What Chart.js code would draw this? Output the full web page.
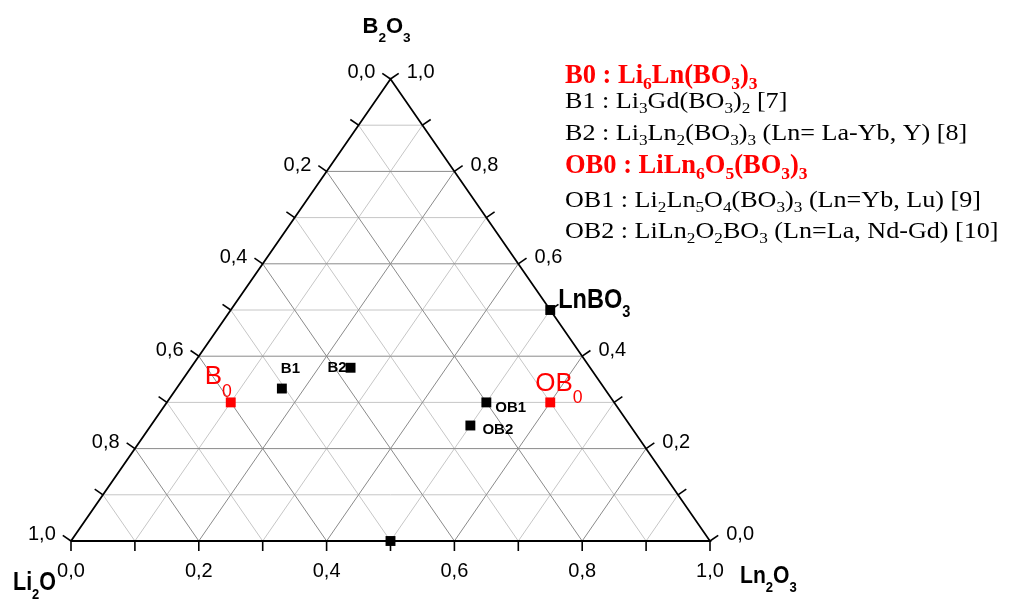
<!DOCTYPE html>
<html>
<head>
<meta charset="utf-8">
<script src="https://cdn.jsdelivr.net/npm/chart.js"></script>
<style>
  body { margin: 0; background: #fff; }
  #wrap { width: 1009px; height: 599px; }
</style>
</head>
<body>
<div id="wrap"><canvas id="ternary" width="1009" height="599"></canvas></div>
<script>
// ternary grid / axis values
const gridSteps = [0.1, 0.2, 0.3, 0.4, 0.5, 0.6, 0.7, 0.8, 0.9];
const tickSteps = [0, 0.1, 0.2, 0.3, 0.4, 0.5, 0.6, 0.7, 0.8, 0.9, 1];
const tickLabelValues = [0, 0.2, 0.4, 0.6, 0.8, 1];
const tickLabels = ['0,0', '0,2', '0,4', '0,6', '0,8', '1,0'];
const cornerNames = ['Li_2O', 'Ln_2O_3', 'B_2O_3'];

// phases (molar fractions Li2O / Ln2O3 / B2O3)
const phases = ['LnBO3', 'LiLnO2', 'B0', 'B1', 'B2', 'OB0', 'OB1', 'OB2'];
const phaseLabels = ['LnBO_3', '', 'B_0', 'B1', 'B2', 'OB_0', 'OB1', 'OB2'];
const li2o = [0, 0.5, 0.6, 0.505, 0.375, 0.1, 0.2, 0.25];
const ln2o3 = [0.5, 0.5, 0.1, 0.165, 0.25, 0.6, 0.5, 0.5];
const b2o3 = [0.5, 0, 0.3, 0.33, 0.375, 0.3, 0.3, 0.25];
const newPhases = ['B0', 'OB0'];

const notes = [
    'B0 : Li_6Ln(BO_3)_3',
    'B1 : Li_3Gd(BO_3)_2 [7]',
    'B2 : Li_3Ln_2(BO_3)_3 (Ln= La-Yb, Y) [8]',
    'OB0 : LiLn_6O_5(BO_3)_3',
    'OB1 : Li_2Ln_5O_4(BO_3)_3 (Ln=Yb, Lu) [9]',
    'OB2 : LiLn_2O_2BO_3 (Ln=La, Nd-Gd) [10]'
];
const noteIsNew = [true, false, false, true, false, false];

// ternary -> cartesian (x along Ln2O3, y = B2O3 height)
function toXY(ln, b) {
    return { x: ln + b / 2, y: b };
}

const SANS = "'Liberation Sans', Arial, sans-serif";
const SERIF = "'Liberation Serif', 'Times New Roman', serif";

function lineSet(p, q, color, width, order) {
    return {
        type: 'line',
        data: [p, q],
        borderColor: color,
        borderWidth: width,
        pointRadius: 0,
        fill: false,
        order: order,
        clip: false
    };
}

const datasets = [];
gridSteps.forEach(v => {
    const major = Math.round(v * 10) % 2 === 0;
    const col = major ? '#8a8a8a' : '#c6c6c6';
    const ord = major ? 4 : 5;
    // constant B2O3
    datasets.push(lineSet(toXY(0, v), toXY(1 - v, v), col, 1, ord));
    // constant Ln2O3
    datasets.push(lineSet(toXY(v, 0), toXY(v, 1 - v), col, 1, ord));
    // constant Li2O
    datasets.push(lineSet(toXY(1 - v, 0), toXY(0, 1 - v), col, 1, ord));
});

// frame
datasets.push({
    type: 'line',
    data: [toXY(0, 0), toXY(1, 0), toXY(0, 1), toXY(0, 0)],
    borderColor: '#000',
    borderWidth: 1.8,
    pointRadius: 0,
    fill: false,
    order: 3,
    clip: false
});

const blackPts = [], redPts = [];
phases.forEach((p, i) => {
    const pt = toXY(ln2o3[i], b2o3[i]);
    (newPhases.includes(p) ? redPts : blackPts).push(pt);
});
[[blackPts, '#000'], [redPts, '#ff0000']].forEach(([pts, col]) => {
    datasets.push({
        type: 'scatter',
        data: pts,
        pointStyle: 'rect',
        pointRadius: 7,
        pointBackgroundColor: col,
        pointBorderWidth: 0,
        order: 1,
        clip: false
    });
});

// text with "_x" marking a subscript character
function richText(ctx, str, x, y, o) {
    const runs = [];
    for (let i = 0; i < str.length; i++) {
        const sub = str[i] === '_';
        const ch = sub ? str[++i] : str[i];
        const last = runs[runs.length - 1];
        if (last && last.sub === sub) last.t += ch;
        else runs.push({ t: ch, sub: sub });
    }
    const weight = o.weight || 'normal';
    const main = weight + ' ' + o.size + 'px ' + o.family;
    const small = weight + ' ' + (o.size * (o.subScale || 0.65)) + 'px ' + o.family;
    let w = 0;
    runs.forEach(r => {
        ctx.font = r.sub ? small : main;
        r.w = ctx.measureText(r.t).width;
        w += r.w;
    });
    const sx = o.sx || 1;
    let x0 = x;
    if (o.align === 'right') x0 = x - w * sx;
    if (o.align === 'center') x0 = x - w * sx / 2;
    ctx.save();
    ctx.translate(x0, y);
    ctx.scale(sx, 1);
    ctx.fillStyle = o.color || '#000';
    ctx.textAlign = 'left';
    ctx.textBaseline = 'alphabetic';
    let cx = 0;
    runs.forEach(r => {
        ctx.font = r.sub ? small : main;
        ctx.fillText(r.t, cx, r.sub ? o.size * (o.subDrop || 0.3) : 0);
        cx += r.w;
    });
    ctx.restore();
}

const labelStyle = {
    'LnBO3': { dx: 8, dy: -2, size: 28, weight: 'bold', sx: 0.84, subScale: 0.62, subDrop: 0.32 },
    'B0': { dx: -26, dy: -18, size: 26, color: '#ff0000', subScale: 0.68, subDrop: 0.48 },
    'B1': { dx: -1, dy: -16, size: 15, weight: 'bold' },
    'B2': { dx: -4, dy: 4, size: 15, weight: 'bold', align: 'right' },
    'OB0': { dx: -15, dy: -11, size: 26, color: '#ff0000', subScale: 0.68, subDrop: 0.44 },
    'OB1': { dx: 9, dy: 10, size: 15, weight: 'bold' },
    'OB2': { dx: 12, dy: 8, size: 15, weight: 'bold' }
};

const ternaryDecor = {
    id: 'ternaryDecor',
    afterDatasetsDraw(chart) {
        const ctx = chart.ctx;
        const xs = chart.scales.x, ys = chart.scales.y;
        const px = p => ({ x: xs.getPixelForValue(p.x), y: ys.getPixelForValue(p.y) });
        const A = px(toXY(0, 0)), B = px(toXY(1, 0)), C = px(toXY(0, 1));

        function normal(P, Q, R) {
            let nx = -(Q.y - P.y), ny = Q.x - P.x;
            const len = Math.hypot(nx, ny);
            nx /= len; ny /= len;
            const mx = (P.x + Q.x) / 2, my = (P.y + Q.y) / 2;
            if ((R.x - mx) * nx + (R.y - my) * ny > 0) { nx = -nx; ny = -ny; }
            return { x: nx, y: ny };
        }

        const axes = [
            { pos: v => toXY(v, 0), n: normal(A, B, C), side: 'bottom' },
            { pos: v => toXY(0, 1 - v), n: normal(A, C, B), side: 'left' },
            { pos: v => toXY(1 - v, v), n: normal(B, C, A), side: 'right' }
        ];

        const TICK = 10;
        ctx.save();
        ctx.strokeStyle = '#000';
        ctx.lineWidth = 1.6;
        axes.forEach(ax => {
            tickSteps.forEach(v => {
                const p = px(ax.pos(v));
                ctx.beginPath();
                ctx.moveTo(p.x, p.y);
                ctx.lineTo(p.x + ax.n.x * TICK, p.y + ax.n.y * TICK);
                ctx.stroke();
            });
            tickLabelValues.forEach((v, i) => {
                const p = px(ax.pos(v));
                const ex = p.x + ax.n.x * TICK, ey = p.y + ax.n.y * TICK;
                const o = { size: 20, family: SANS };
                if (ax.side === 'bottom') richText(ctx, tickLabels[i], ex, ey + 26, Object.assign(o, { align: 'center' }));
                if (ax.side === 'left') richText(ctx, tickLabels[i], ex - 7, ey + 5, Object.assign(o, { align: 'right' }));
                if (ax.side === 'right') richText(ctx, tickLabels[i], ex + 8, ey + 5, o);
            });
        });
        ctx.restore();

        // corner titles
        richText(ctx, cornerNames[2], C.x - 28, C.y - 46, { size: 22, weight: 'bold', family: SANS, subScale: 0.62, subDrop: 0.4 });
        richText(ctx, cornerNames[0], A.x - 58, A.y + 49, { size: 25, weight: 'bold', family: SANS, sx: 0.86, subScale: 0.6, subDrop: 0.34 });
        richText(ctx, cornerNames[1], B.x + 30, B.y + 42, { size: 24, weight: 'bold', family: SANS, sx: 0.88, subScale: 0.62, subDrop: 0.38 });

        // phase labels
        phases.forEach((name, i) => {
            const st = labelStyle[name];
            if (!st || !phaseLabels[i]) return;
            const p = px(toXY(ln2o3[i], b2o3[i]));
            richText(ctx, phaseLabels[i], p.x + st.dx, p.y + st.dy, Object.assign({ family: SANS }, st));
        });

        // composition notes
        const noteBase = [83, 108, 140, 173, 207, 238];
        notes.forEach((t, i) => {
            const isNew = noteIsNew[i];
            richText(ctx, t, 565, noteBase[i], {
                size: isNew ? 26.5 : 23,
                weight: isNew ? 'bold' : 'normal',
                family: SERIF,
                color: isNew ? '#ff0000' : '#000',
                sx: isNew ? 1.0 : 1.135,
                subScale: 0.66,
                subDrop: 0.22
            });
        });
    }
};

new Chart(document.getElementById('ternary').getContext('2d'), {
    type: 'scatter',
    data: { datasets: datasets },
    options: {
        responsive: false,
        animation: false,
        layout: { padding: { left: 71, right: 299, top: 79, bottom: 58 } },
        scales: {
            x: { type: 'linear', min: 0, max: 1, display: false },
            y: { type: 'linear', min: 0, max: 1, display: false }
        },
        plugins: {
            legend: { display: false },
            tooltip: { enabled: false }
        }
    },
    plugins: [ternaryDecor]
});
</script>
</body>
</html>
